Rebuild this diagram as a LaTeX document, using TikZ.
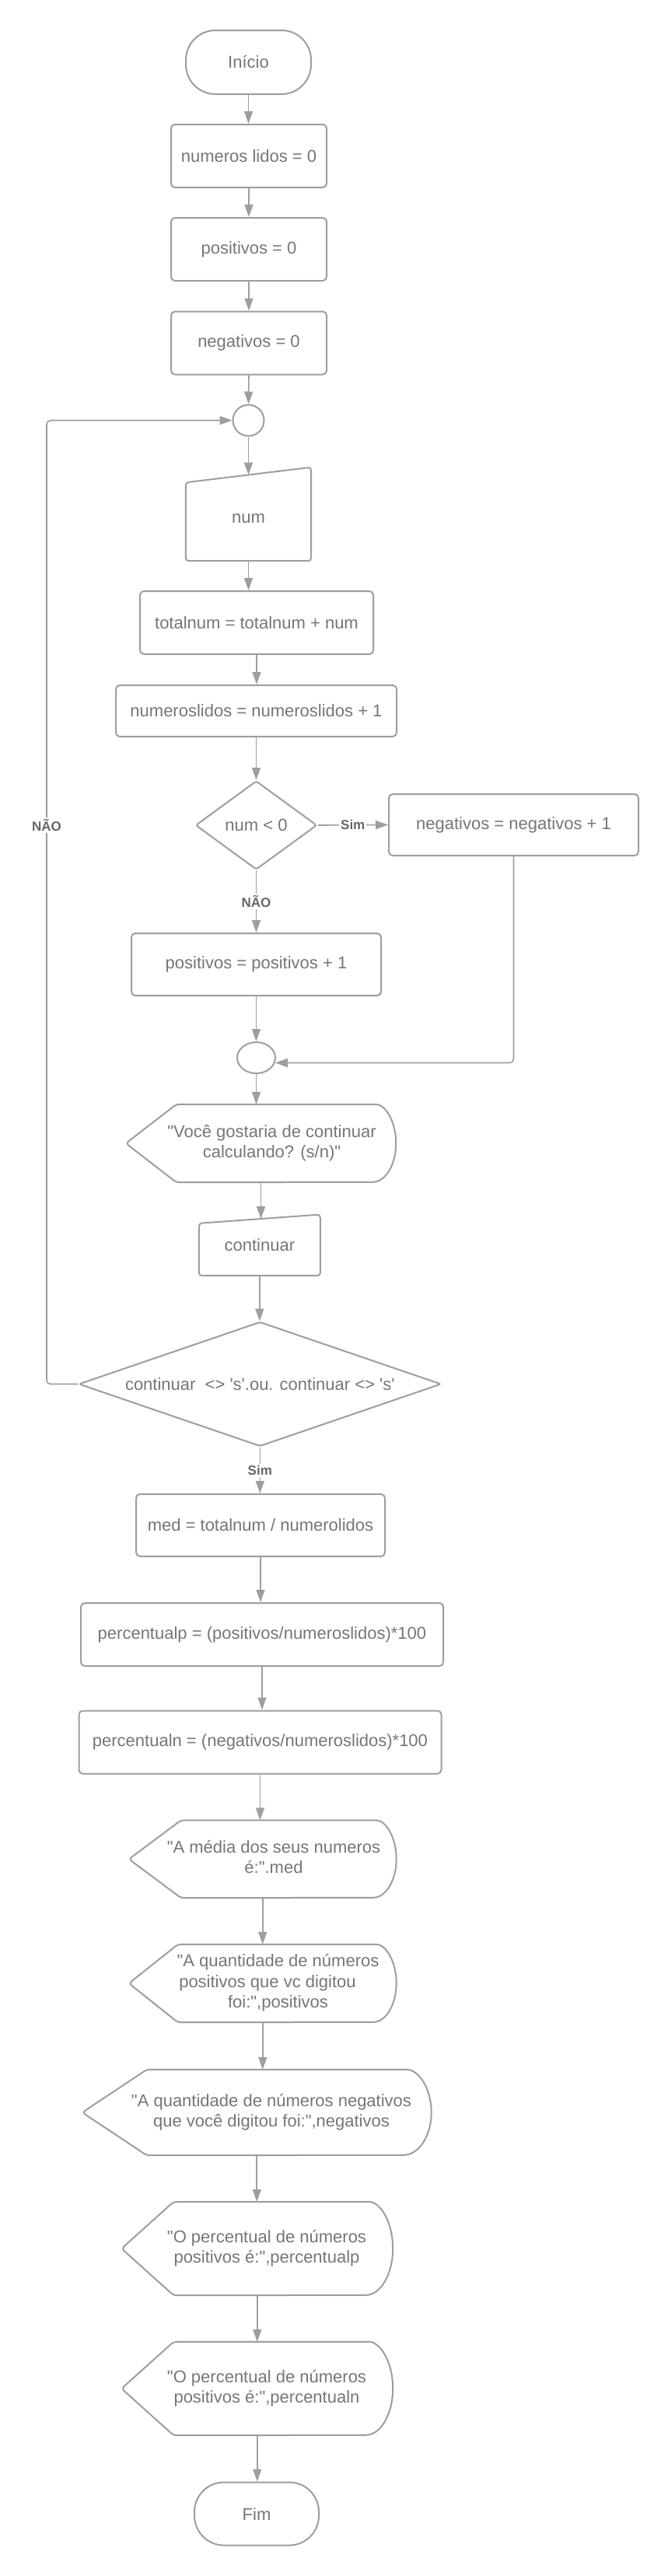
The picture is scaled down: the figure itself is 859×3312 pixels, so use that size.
\documentclass[tikz,border=0pt]{standalone}
\usepackage{fontspec}
\setmainfont{Liberation Sans}[Ligatures=TeXOff]
\usetikzlibrary{shapes.geometric,arrows.meta,calc}
\definecolor{lc}{HTML}{9E9E9E}
\definecolor{tc}{HTML}{767676}
\definecolor{lb}{HTML}{666666}
\tikzset{
 shp/.style={draw=lc, line width=2pt, text=tc, font=\fontsize{22}{26.5}\selectfont, inner sep=0pt, align=center},
 proc/.style={shp, rectangle, rounded corners=5pt},
 term/.style={shp, rectangle, rounded corners=38pt},
 dec/.style={shp, diamond, rounded corners=3pt},
 plain/.style={text=tc, font=\fontsize{22}{26.5}\selectfont, inner sep=0pt, align=center},
 conn/.style={draw=lc, line width=1.6pt, -{Triangle[length=16pt,width=11pt]}},
 lbl/.style={fill=white, text=lb, font=\bfseries\fontsize{17}{20}\selectfont, inner sep=2pt},
 outl/.style={draw=lc, line width=2pt},
}
\newcommand\dispoutline[4]{%
 \draw[outl] ([xshift=-#3]#1.north east) arc[start angle=90,end angle=-90,x radius=#3,y radius=#4]
   [rounded corners=4pt] -- ([xshift=#2]#1.south west) -- (#1.west) -- ([xshift=#2]#1.north west) -- cycle;}
\newcommand\manoutline[2]{%
 \draw[outl, rounded corners=4pt] (#1.south west) -- ([yshift=-#2]#1.north west) -- (#1.north east) -- (#1.south east) -- cycle;}
\begin{document}
\begin{tikzpicture}[x=1pt,y=-1pt]
\useasboundingbox[fill=white] (0,0) rectangle (859,3312);

\node[term, minimum width=161pt, minimum height=82pt] (ini) at (319.5,80) {Início};
\node[proc, minimum width=200pt, minimum height=81pt] (n0) at (320,200.5) {numeros lidos = 0};
\node[proc, minimum width=200pt, minimum height=81pt] (p0) at (320,320.5) {positivos = 0};
\node[proc, minimum width=200pt, minimum height=81pt] (g0) at (320,441) {negativos = 0};
\node[shp, circle, minimum size=40pt] (c1) at (319.5,540.5) {};
\node[plain, minimum width=161pt, minimum height=120pt] (num) at (319.5,661) {\raisebox{-6pt}[\height][\depth]{num}};
\manoutline{num}{19.5pt}
\node[proc, minimum width=300pt, minimum height=81pt] (tot) at (330,800.5) {totalnum = totalnum + num};
\node[proc, minimum width=361pt, minimum height=66pt] (nl) at (329.5,914) {numeroslidos = numeroslidos + 1};
\node[dec, minimum width=156pt, minimum height=114pt, aspect=1.37] (d1) at (329.5,1061) {num < 0};
\node[proc, minimum width=321pt, minimum height=79pt] (neg1) at (660.5,1060.5) {negativos = negativos + 1};
\node[proc, minimum width=321pt, minimum height=80pt] (pos1) at (329.5,1240) {positivos = positivos + 1};
\node[shp, ellipse, minimum width=49pt, minimum height=40pt] (c2) at (329.5,1360) {};
\node[plain, minimum width=347pt, minimum height=100pt] (disp1) at (335.5,1470) {\hspace*{28pt}\begin{tabular}{@{}c@{}}"Você gostaria de continuar\\calculando? (s/n)"\end{tabular}};
\dispoutline{disp1}{65pt}{30pt}{50pt}
\node[plain, minimum width=155.7pt, minimum height=78.3pt] (cont) at (333.85,1600.85) {continuar};
\manoutline{cont}{11.3pt}
\node[dec, minimum width=466pt, minimum height=160pt, aspect=2.9] (d2) at (334.3,1779.5) {continuar\ \ <> 's'.ou. continuar <> 's'};
\node[proc, minimum width=320pt, minimum height=80pt] (med) at (335,1961) {med = totalnum / numerolidos};
\node[proc, minimum width=466pt, minimum height=81pt] (pp) at (337,2101.5) {percentualp = (positivos/numeroslidos)*100};
\node[proc, minimum width=466pt, minimum height=81pt] (pn) at (334.5,2240) {percentualn = (negativos/numeroslidos)*100};
\node[plain, minimum width=343.5pt, minimum height=99.5pt] (disp2) at (337.75,2390.25) {\hspace*{28.5pt}\begin{tabular}{@{}c@{}}"A média dos seus numeros\\é:".med\end{tabular}};
\dispoutline{disp2}{67pt}{30pt}{49.75pt}
\node[plain, minimum width=343.5pt, minimum height=100pt] (disp3) at (337.75,2550) {\hspace*{39.5pt}\begin{tabular}{@{}c@{}}"A quantidade de números\\positivos que vc digitou\hspace*{27pt}\\foi:",positivos\end{tabular}};
\dispoutline{disp3}{63pt}{30pt}{50pt}
\node[plain, minimum width=448.5pt, minimum height=110pt] (disp4) at (330.25,2716) {\hspace*{37.5pt}\begin{tabular}{@{}c@{}}"A quantidade de números negativos\\que você digitou foi:",negativos\end{tabular}};
\dispoutline{disp4}{83pt}{36pt}{55pt}
\node[plain, minimum width=348.5pt, minimum height=120pt] (disp5) at (330.75,2891) {\hspace*{24.5pt}\begin{tabular}{@{}c@{}}"O percentual de números\\positivos é:",percentualp\end{tabular}};
\dispoutline{disp5}{67pt}{35pt}{60pt}
\node[plain, minimum width=348.5pt, minimum height=120pt] (disp6) at (330.75,3071) {\hspace*{24.5pt}\begin{tabular}{@{}c@{}}"O percentual de números\\positivos é:",percentualn\end{tabular}};
\dispoutline{disp6}{67pt}{35pt}{60pt}
\node[term, minimum width=160pt, minimum height=81pt] (fim) at (330,3232) {Fim};

\draw[conn] (ini.south) -- (ini.south |- n0.north);
\draw[conn] (n0.south) -- (n0.south |- p0.north);
\draw[conn] (p0.south) -- (p0.south |- g0.north);
\draw[conn] (g0.south) -- (c1.north);
\draw[conn] (c1.south) -- ([yshift=-9.75pt]num.north);
\draw[conn] (num.south) -- (num.south |- tot.north);
\draw[conn] (tot.south) -- (tot.south |- nl.north);
\draw[conn] (nl.south) -- (d1.north);
\draw[conn] (d1.east) -- node[lbl]{Sim} (neg1.west);
\draw[conn] (d1.south) -- node[lbl]{NÃO} (pos1.north);
\draw[conn] (pos1.south) -- (c2.north);
\draw[conn, rounded corners=5pt] (neg1.south) |- (c2.-15);
\draw[conn] (c2.south) -- (c2.south |- disp1.north);
\draw[conn] (disp1.south) -- ($(disp1.south |- cont.north)+(0,5.7)$);
\draw[conn] (cont.south) -- (cont.south |- d2.north);
\coordinate (loopx) at (60,540.5);
\draw[conn, rounded corners=5pt] (d2.west) -| node[lbl,pos=0.79]{NÃO} (loopx) -- (c1.west);
\draw[conn] (d2.south) -- node[lbl]{Sim} (d2.south |- med.north);
\draw[conn] (med.south) -- (med.south |- pp.north);
\draw[conn] (pp.south) -- (pp.south |- pn.north);
\draw[conn] (pn.south) -- (pn.south |- disp2.north);
\draw[conn] (disp2.south) -- (disp2.south |- disp3.north);
\draw[conn] (disp3.south) -- (disp3.south |- disp4.north);
\draw[conn] (disp4.south) -- (disp4.south |- disp5.north);
\draw[conn] (disp5.south) -- (disp5.south |- disp6.north);
\draw[conn] (disp6.south) -- (disp6.south |- fim.north);
\end{tikzpicture}
\end{document}
